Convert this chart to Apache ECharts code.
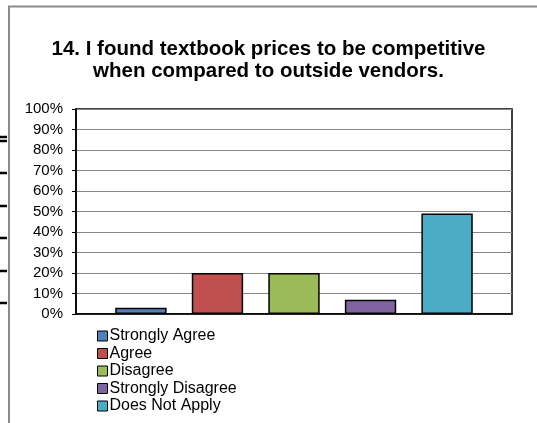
<!DOCTYPE html>
<html>
<head>
<meta charset="utf-8">
<script src="https://cdn.jsdelivr.net/npm/echarts@6/dist/echarts.min.js"></script>
<style>
  html, body { margin: 0; padding: 0; background: #fff; }
  #chart { width: 537px; height: 423px; }
</style>
</head>
<body>
<div id="chart"></div>
<script>
var titleText = '14. I found textbook prices to be competitive\nwhen compared to outside vendors.';
var categories = [''];
var seriesNames = ['Strongly Agree', 'Agree', 'Disagree', 'Strongly Disagree', 'Does Not Apply'];
var seriesValues = [3, 20, 20, 7, 49];
var seriesColors = ['#4F81BD', '#C0504D', '#9BBB59', '#8064A2', '#4BACC6'];

var font = '"Liberation Sans", Arial, sans-serif';

var chart = echarts.init(document.getElementById('chart'));

var series = seriesNames.map(function (name, i) {
  return {
    name: name,
    type: 'bar',
    data: [seriesValues[i]],
    barGap: '49%',
    barCategoryGap: '18%',
    itemStyle: {
      color: seriesColors[i],
      borderColor: '#000',
      borderWidth: 1.5
    }
  };
});

// stray bits of the neighbouring chart, cut off at the left edge
var strayY = [137, 141, 173, 206, 238, 271, 303];
var graphics = strayY.map(function (y) {
  return { type: 'line', shape: { x1: 0, y1: y, x2: 7, y2: y }, style: { stroke: '#000', lineWidth: 2.5 } };
});
graphics.push({
  type: 'polyline',
  shape: { points: [[9, 423], [9, 6.5], [537, 6.5]] },
  style: { stroke: '#8c8c8c', lineWidth: 2, fill: null }
});

var option = {
  animation: false,
  backgroundColor: '#fff',
  textStyle: { fontFamily: font },
  title: {
    text: titleText,
    left: 'center',
    top: 38,
    padding: 0,
    textStyle: { fontFamily: font, fontSize: 20.5, fontWeight: 'bold', color: '#000', lineHeight: 22 }
  },
  legend: {
    orient: 'vertical',
    left: 97,
    top: 328,
    padding: 0,
    itemWidth: 10,
    itemHeight: 10,
    itemGap: 1.5,
    icon: 'rect',
    data: seriesNames,
    itemStyle: { borderColor: '#000', borderWidth: 1 },
    textStyle: { fontFamily: font, fontSize: 16, lineHeight: 16, color: '#000', padding: [0, 0, 0, -3] }
  },
  grid: {
    left: 76,
    top: 109,
    right: 25,
    bottom: 109,
    show: true,
    borderColor: '#000',
    borderWidth: 1.5,
    containLabel: false
  },
  xAxis: {
    type: 'category',
    data: categories,
    axisLine: { lineStyle: { color: '#000', width: 1.5 } },
    axisTick: { show: false },
    axisLabel: { show: false }
  },
  yAxis: {
    type: 'value',
    min: 0,
    max: 100,
    interval: 10,
    axisLine: { show: true, lineStyle: { color: '#000', width: 1.5 } },
    axisTick: { show: true, length: 4, lineStyle: { color: '#000', width: 1 } },
    axisLabel: { formatter: '{value}%', fontFamily: font, fontSize: 15, color: '#000', margin: 13 },
    splitLine: { lineStyle: { color: '#868686', width: 1 } }
  },
  graphic: graphics,
  series: series
};

chart.setOption(option);
</script>
</body>
</html>
